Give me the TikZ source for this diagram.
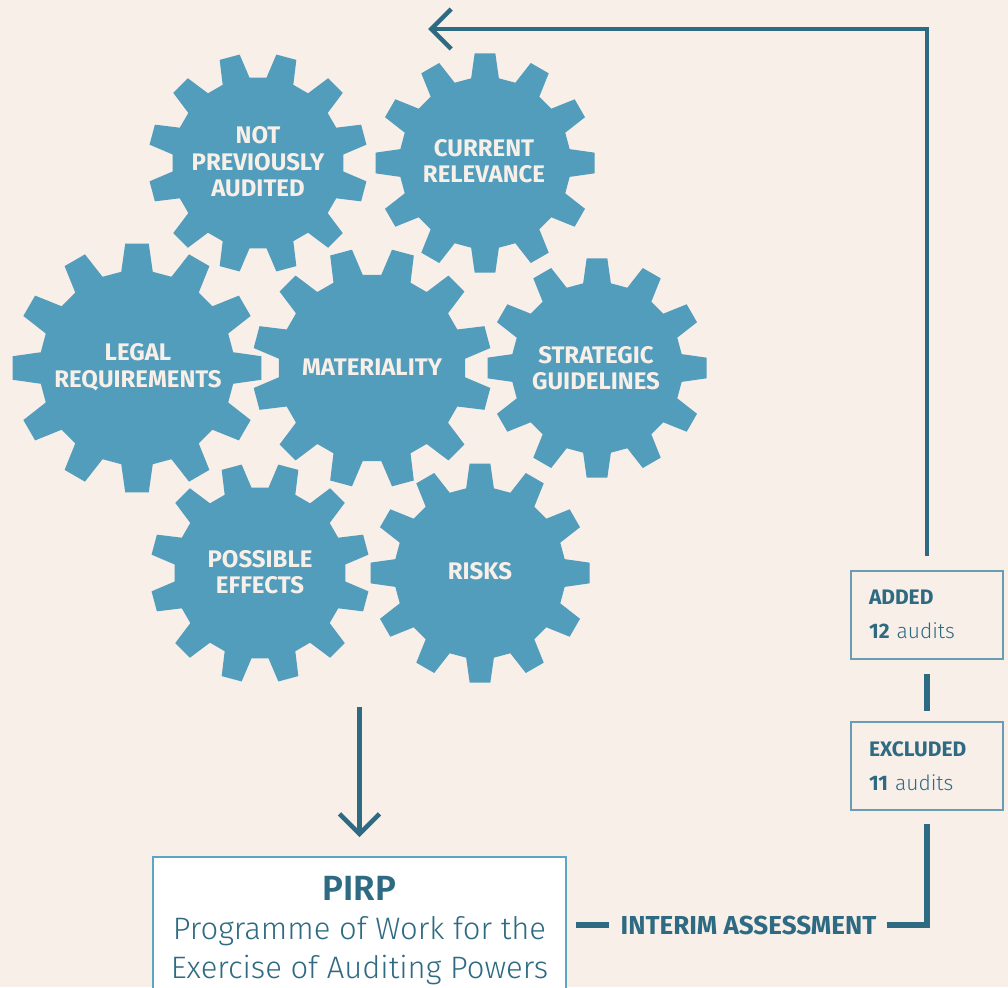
\documentclass[tikz,border=0pt]{standalone}
\usepackage{fontspec}
\setmainfont{Fira Sans}
\newfontfamily\lightfont{Fira Sans Light}
\usetikzlibrary{arrows.meta,positioning}

\definecolor{paper}{HTML}{F8EFE9}
\definecolor{gearblue}{HTML}{519DBB}
\definecolor{darkteal}{HTML}{2E6B82}
\definecolor{boxline}{HTML}{6A9DB4}
\definecolor{pirpline}{HTML}{5BA5C5}
\definecolor{cream}{HTML}{F7EFE8}

\newcommand{\cog}[4]{%
  \begin{scope}[shift={(#1,#2)},rotate=#4]
    \fill[gearblue] (-9.3:0.78*#3)
      \foreach \a in {0,30,...,330}{
        -- (\a-9.3:0.78*#3) -- (\a-5.4:#3) -- (\a+5.4:#3) -- (\a+9.3:0.78*#3)}
      -- cycle;
  \end{scope}}

\begin{document}
\begin{tikzpicture}[x=1pt,y=-1pt,
    geartext/.style={text=cream,inner sep=0pt,align=center,font=\bfseries\fontsize{24}{26.5}\selectfont},
    infobox/.style={draw=boxline,line width=2pt,text=darkteal,align=left,text width=116pt,
      inner xsep=18pt,minimum height=88pt,font=\fontsize{21}{34}\selectfont},
    pirpbox/.style={draw=pirpline,line width=2pt,fill=white,text=darkteal,align=center,
      minimum width=413pt,inner xsep=0pt,inner ysep=19pt,font=\lightfont\fontsize{31}{39}\selectfont},
    flow/.style={draw=darkteal,line width=4.5pt},
    flowthick/.style={draw=darkteal,line width=6pt},
    barb/.style={-{Straight Barb[length=20pt,width=40pt]}}]
\useasboundingbox (0,0) rectangle (1008,987);
\fill[paper] (0,0) rectangle (1008,987);

\cog{258}{163}{110}{15}
\cog{485}{163}{110}{0}
\cog{137}{368}{125}{0}
\cog{372}{368}{120}{15}
\cog{597}{368}{110}{0}
\cog{260}{573}{110}{15}
\cog{480}{573}{110}{0}

\node[geartext] (notaudited) at (258,162) {NOT\\PREVIOUSLY\\AUDITED};
\node[geartext] (relevance) at (484,161) {CURRENT\\RELEVANCE};
\node[geartext] (legal) at (138,367) {LEGAL\\REQUIREMENTS};
\node[geartext] (materiality) at (372,367) {MATERIALITY};
\node[geartext] (strategic) at (596,368) {STRATEGIC\\GUIDELINES};
\node[geartext] (effects) at (260,572) {POSSIBLE\\EFFECTS};
\node[geartext] (risks) at (480,571) {RISKS};

\node[pirpbox,anchor=north] (pirp) at (359.5,856) {{\bfseries\fontsize{35}{39}\selectfont PIRP}\\Programme of Work for the\\Exercise of Auditing Powers};
\node[text=darkteal,inner sep=0pt,font=\bfseries\fontsize{26}{28}\selectfont] (interim) at (748.5,925) {INTERIM ASSESSMENT};
\node[infobox] (added) at (927,614.5) {\textbf{ADDED}\\\textbf{12} {\lightfont audits}};
\node[infobox] (excluded) at (927,766) {\textbf{EXCLUDED}\\\textbf{11} {\lightfont audits}};

\coordinate (gearsfoot) at (359.5,707);
\coordinate (loopcorner) at (927,29);
\coordinate (looptip) at (428,29);

\draw[flow,barb,shorten >=19pt] (gearsfoot) -- (gearsfoot |- pirp.north);
\draw[flowthick,shorten <=9pt,shorten >=11pt] (pirp.east |- interim.west) -- (interim.west);
\draw[flowthick,shorten <=10pt,shorten >=13pt] (interim.east) -- (interim.east -| excluded.south) -- (excluded.south);
\draw[flowthick,shorten <=14pt,shorten >=10pt] (added.south) -- (excluded.north);
\draw[flow,barb,shorten <=14pt] (added.north) -- (loopcorner) -- (looptip);
\end{tikzpicture}
\end{document}
